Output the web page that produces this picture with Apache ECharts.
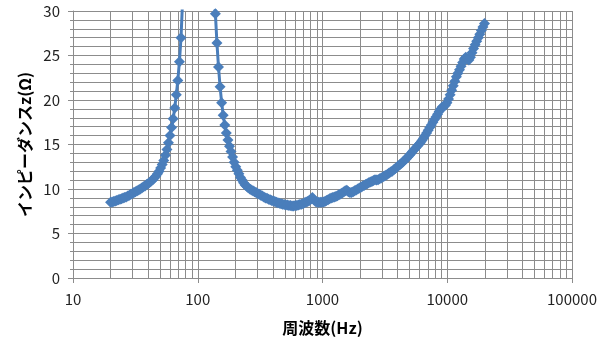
<!DOCTYPE html>
<html>
<head>
<meta charset="utf-8">
<script src="https://cdn.jsdelivr.net/npm/echarts@6/dist/echarts.min.js"></script>
<style>
html,body{margin:0;padding:0;background:#fff;}
#chart{width:605px;height:343px;}
</style>
</head>
<body>
<div id="chart"></div>
<script>
// Frequency (Hz), 1/24-octave points
var freqHz = [
  20, 20.6, 21.2, 21.8, 22.4, 23.1, 23.8, 24.5, 25.2, 25.9, 26.7, 27.5, 28.3, 29.1, 30.0, 30.8, 31.7, 32.7, 33.6, 34.6, 35.6, 36.7, 37.8, 38.9,
  40, 41.2, 42.4, 43.6, 44.9, 46.2, 47.6, 49.0, 50.4, 51.9, 53.4, 55.0, 56.6, 58.2, 59.9, 61.7, 63.5, 65.4, 67.3, 69.2, 71.3, 73.4, 75.5, 77.7,
  80, 82.3, 84.8, 87.2, 89.8, 92.4, 95.1, 97.9, 100.8, 103.7, 106.8, 109.9, 113.1, 116.5, 119.9, 123.4, 127.0, 130.7, 134.5, 138.5, 142.5, 146.7, 151.0, 155.4,
  160, 164.7, 169.5, 174.5, 179.6, 184.8, 190.2, 195.8, 201.6, 207.5, 213.6, 219.8, 226.3, 232.9, 239.7, 246.7, 253.9, 261.4, 269.1, 276.9, 285.0, 293.4, 302.0, 310.8,
  320, 329.4, 339.0, 349.0, 359.2, 369.6, 380.4, 391.6, 403.1, 414.8, 427.0, 439.5, 452.4, 465.6, 479.3, 493.3, 507.8, 522.6, 538.0, 553.8, 570.0, 586.7, 603.9, 621.6,
  640, 658.8, 678.1, 697.9, 718.4, 739.5, 761.2, 783.4, 806.3, 829.9, 854.3, 879.3, 905.1, 931.7, 959.0, 987.1, 1016, 1046, 1076, 1108, 1140, 1174, 1208, 1244,
  1280, 1317, 1356, 1396, 1437, 1479, 1522, 1567, 1613, 1660, 1708, 1759, 1810, 1863, 1918, 1974, 2032, 2091, 2153, 2216, 2281, 2348, 2416, 2487,
  2560, 2635, 2712, 2792, 2874, 2958, 3045, 3134, 3225, 3320, 3417, 3517, 3620, 3727, 3836, 3948, 4064, 4183, 4305, 4432, 4561, 4695, 4833, 4974,
  5120, 5270, 5424, 5583, 5747, 5916, 6089, 6267, 6451, 6640, 6834, 7034, 7241, 7453, 7671, 7896, 8127, 8365, 8610, 8863, 9122, 9390, 9665, 9948,
  10240, 10540, 10849, 11167, 11494, 11831, 12177, 12534, 12902, 13280, 13669, 14069, 14482, 14906, 15343, 15792, 16255, 16731, 17222, 17726, 18246, 18780, 19330, 19897
];
// Impedance z (Ω)
var impedance = [
  8.5, 8.55, 8.6, 8.65, 8.7, 8.8, 8.85, 8.9, 9.0, 9.05, 9.1, 9.2, 9.3, 9.4, 9.5, 9.6, 9.7, 9.8, 9.9, 10.0, 10.1, 10.25, 10.35, 10.5,
  10.6, 10.75, 10.9, 11.05, 11.25, 11.45, 11.7, 12.0, 12.35, 12.75, 13.2, 13.8, 14.45, 15.2, 16.0, 16.9, 17.9, 19.1, 20.6, 22.2, 24.3, 27.0, 31, 35.5,
  40, 45, 50, 55, 60, 64, 67, 69, 70, 69, 67, 64, 60, 55, 50, 45, 41, 37, 33, 29.7, 26.4, 23.7, 21.5, 19.7,
  18.3, 17.2, 16.3, 15.5, 14.8, 14.2, 13.6, 13.0, 12.5, 12.1, 11.7, 11.3, 11.0, 10.7, 10.45, 10.3, 10.15, 10.0, 9.9, 9.8, 9.7, 9.6, 9.5, 9.4,
  9.3, 9.2, 9.1, 9.0, 8.95, 8.85, 8.8, 8.7, 8.65, 8.6, 8.5, 8.45, 8.4, 8.35, 8.3, 8.25, 8.2, 8.2, 8.15, 8.15, 8.1, 8.1, 8.15, 8.15,
  8.2, 8.25, 8.3, 8.35, 8.45, 8.55, 8.6, 8.7, 8.85, 9.05, 8.8, 8.6, 8.5, 8.5, 8.5, 8.5, 8.55, 8.6, 8.7, 8.8, 8.9, 9.0, 9.05, 9.1,
  9.15, 9.25, 9.35, 9.45, 9.55, 9.65, 9.8, 9.85, 9.7, 9.6, 9.6, 9.7, 9.8, 9.9, 10.0, 10.1, 10.2, 10.3, 10.4, 10.5, 10.6, 10.7, 10.8, 10.85,
  10.95, 11.05, 11.0, 11.05, 11.15, 11.25, 11.35, 11.45, 11.55, 11.65, 11.8, 11.9, 12.0, 12.15, 12.3, 12.45, 12.6, 12.75, 12.9, 13.05, 13.25, 13.4, 13.6, 13.8,
  14.0, 14.2, 14.4, 14.6, 14.8, 15.0, 15.2, 15.45, 15.7, 16.0, 16.3, 16.6, 16.9, 17.2, 17.5, 17.8, 18.1, 18.4, 18.7, 19.0, 19.2, 19.3, 19.4, 19.7,
  20.1, 20.6, 21.1, 21.6, 22.1, 22.6, 23.0, 23.4, 23.8, 24.2, 24.6, 24.8, 24.6, 24.5, 24.8, 25.3, 25.8, 26.2, 26.6, 27.0, 27.4, 27.8, 28.2, 28.6
];
var xTickLabels = ['10', '100', '1000', '10000', '100000'];
var yTickLabels = ['0', '5', '10', '15', '20', '25', '30'];
var xAxisTitle = '周波数(Hz)';
var yAxisTitle = 'インピーダンスz(Ω)';

var seriesData = freqHz.map(function (f, i) { return [f, impedance[i]]; });

// minor vertical gridlines of the log axis (2..9 × each decade)
var minorLines = [];
for (var d = 10; d < 100000; d *= 10) {
  for (var m = 2; m <= 9; m++) minorLines.push({ xAxis: m * d });
}

var gridColor = '#8c8c8c';
var chart = echarts.init(document.getElementById('chart'), null, { renderer: 'canvas' });
chart.setOption({
  animation: false,
  backgroundColor: '#ffffff',
  textStyle: { fontFamily: 'Noto Sans CJK JP, Noto Sans, sans-serif' },
  grid: { left: 73, right: 33, top: 11, bottom: 65, containLabel: false },
  xAxis: {
    type: 'log', logBase: 10, min: 10, max: 100000,
    name: xAxisTitle, nameLocation: 'middle', nameGap: 42,
    nameTextStyle: { fontSize: 16, fontWeight: 'bold', color: '#000' },
    axisLine: { show: true, lineStyle: { color: gridColor, width: 1 } },
    axisTick: { show: true, length: 5, lineStyle: { color: gridColor } },
    axisLabel: {
      color: '#222', fontSize: 15, margin: 14,
      formatter: function (v) {
        var idx = Math.round(Math.log10(v)) - 1;
        return xTickLabels[idx] !== undefined ? xTickLabels[idx] : '';
      }
    },
    splitLine: { show: true, lineStyle: { color: gridColor, width: 1 } }
  },
  yAxis: {
    type: 'value', min: 0, max: 30, interval: 5,
    name: yAxisTitle, nameLocation: 'middle', nameGap: 38, nameRotate: 90,
    nameTextStyle: { fontSize: 16, fontWeight: 'bold', color: '#000' },
    axisLine: { show: true, lineStyle: { color: gridColor, width: 1 } },
    axisTick: { show: true, length: 5, lineStyle: { color: gridColor } },
    minorTick: { show: true, splitNumber: 5, length: 3, lineStyle: { color: gridColor } },
    axisLabel: {
      color: '#222', fontSize: 15, margin: 13,
      formatter: function (v) { return yTickLabels[Math.round(v / 5)]; }
    },
    splitLine: { show: true, lineStyle: { color: gridColor, width: 1 } },
    minorSplitLine: { show: true, lineStyle: { color: gridColor, width: 1 } }
  },
  series: [
    {
      type: 'line', data: [], silent: true, z: 1,
      markLine: {
        silent: true, symbol: 'none', z: 1, animation: false,
        label: { show: false },
        emphasis: { disabled: true },
        lineStyle: { color: gridColor, width: 1, type: 'solid' },
        data: minorLines
      }
    },
    {
      type: 'line', data: seriesData, z: 5, clip: true,
      symbol: 'diamond', symbolSize: 11, showSymbol: true, showAllSymbol: true,
      itemStyle: { color: '#4a7ebb' },
      lineStyle: { color: '#4a7ebb', width: 3 }
    }
  ]
});
</script>
</body>
</html>
